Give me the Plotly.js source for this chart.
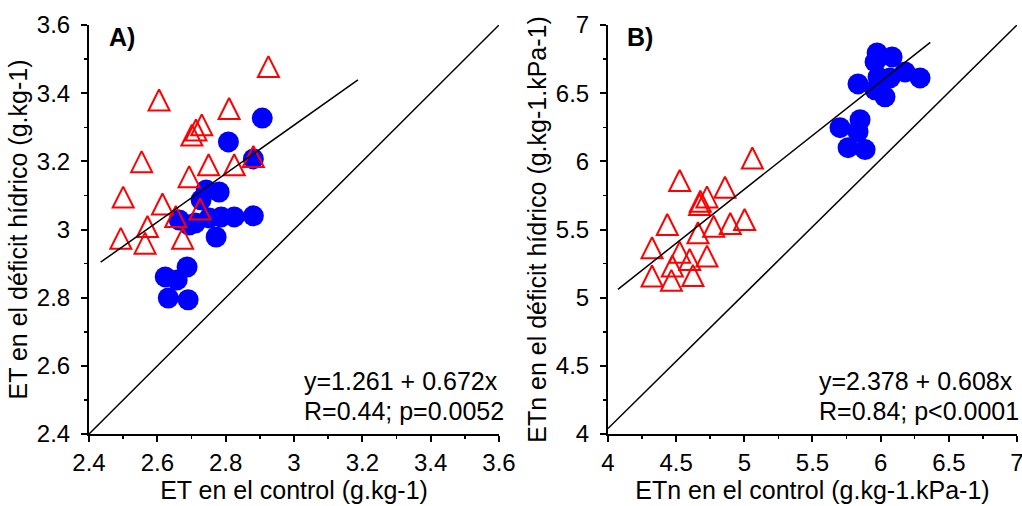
<!DOCTYPE html>
<html>
<head>
<meta charset="utf-8">
<script src="https://cdn.plot.ly/plotly-3.0.1.min.js"></script>
<style>html,body{margin:0;padding:0;background:#fff;}#chart{width:1022px;height:506px;}</style>
</head>
<body>
<div id="chart"></div>
<script>
// ---------- Panel A data (ET) ----------
var aCirclesX = [2.907, 2.808, 2.881, 2.743, 2.781, 2.728, 2.664, 2.711, 2.752, 2.787, 2.825, 2.881, 2.772, 2.693, 2.687, 2.623, 2.658, 2.632, 2.690];
var aCirclesY = [3.327, 3.257, 3.207, 3.116, 3.110, 3.087, 3.028, 3.019, 3.034, 3.037, 3.037, 3.040, 2.978, 3.013, 2.890, 2.861, 2.852, 2.799, 2.794];
var aTrianglesX = [2.925, 2.605, 2.810, 2.730, 2.713, 2.701, 2.554, 2.750, 2.825, 2.881, 2.693, 2.500, 2.615, 2.725, 2.571, 2.493, 2.564, 2.654, 2.674];
var aTrianglesY = [3.478, 3.380, 3.355, 3.307, 3.292, 3.277, 3.199, 3.190, 3.190, 3.214, 3.155, 3.095, 3.075, 3.060, 3.009, 2.974, 2.960, 3.038, 2.974];
var aFitX = [2.434, 3.187];
var aFitY = [2.904, 3.439];
var aOneX = [2.4, 3.6];
var aOneY = [2.4, 3.6];
var aXTitle = "ET en el control (g.kg-1)";
var aYTitle = "ET en el déficit hídrico (g.kg-1)";
var aLabel = "A)";
var aEq1 = "y=1.261 + 0.672x";
var aEq2 = "R=0.44; p=0.0052";

// ---------- Panel B data (ETn) ----------
var bCirclesX = [5.974, 5.959, 6.084, 6.179, 6.289, 5.834, 5.981, 6.069, 6.032, 5.959, 5.702, 5.849, 5.834, 5.761, 5.886];
var bCirclesY = [6.795, 6.729, 6.766, 6.656, 6.612, 6.568, 6.620, 6.612, 6.473, 6.525, 6.247, 6.305, 6.217, 6.100, 6.086];
var bTrianglesX = [5.059, 4.526, 4.858, 4.726, 4.677, 4.672, 4.435, 5.002, 4.897, 4.775, 4.660, 4.323, 4.526, 4.599, 4.726, 4.472, 4.323, 4.465, 4.623];
var bTrianglesY = [6.024, 5.859, 5.810, 5.739, 5.707, 5.683, 5.537, 5.573, 5.544, 5.524, 5.476, 5.366, 5.334, 5.280, 5.305, 5.232, 5.159, 5.127, 5.163];
var bFitX = [4.073, 6.364];
var bFitY = [5.061, 6.873];
var bOneX = [4.0, 7.0];
var bOneY = [4.04, 7.0];
var bXTitle = "ETn en el control (g.kg-1.kPa-1)";
var bYTitle = "ETn en el déficit hídrico (g.kg-1.kPa-1)";
var bLabel = "B)";
var bEq1 = "y=2.378 + 0.608x";
var bEq2 = "R=0.84; p<0.0001";

var FONT = "Liberation Sans, Arial, sans-serif";

function circles(x, y, xa, ya) {
  return {x: x, y: y, xaxis: xa, yaxis: ya, type: 'scatter', mode: 'markers',
    marker: {symbol: 'circle', size: 21, color: '#0000ff', line: {width: 0}}, hoverinfo: 'skip'};
}
function triangles(x, y, xa, ya) {
  return {x: x, y: y, xaxis: xa, yaxis: ya, type: 'scatter', mode: 'markers',
    marker: {symbol: 'arrow-down-open', angle: 180, standoff: 10.5, size: 21, color: '#ff0000', line: {width: 2, color: '#ff0000'}}, hoverinfo: 'skip'};
}
function line(x, y, xa, ya) {
  return {x: x, y: y, xaxis: xa, yaxis: ya, type: 'scatter', mode: 'lines',
    line: {color: '#000', width: 1.5}, hoverinfo: 'skip'};
}

var data = [
  circles(aCirclesX, aCirclesY, 'x', 'y'),
  triangles(aTrianglesX, aTrianglesY, 'x', 'y'),
  line(aFitX, aFitY, 'x', 'y'),
  line(aOneX, aOneY, 'x', 'y'),
  circles(bCirclesX, bCirclesY, 'x2', 'y2'),
  triangles(bTrianglesX, bTrianglesY, 'x2', 'y2'),
  line(bFitX, bFitY, 'x2', 'y2'),
  line(bOneX, bOneY, 'x2', 'y2')
];

function axis(domain, range, dtick, minor, title, standoff, anchor, labelOff) {
  return {
    domain: domain, range: range, dtick: dtick, tick0: range[0], anchor: anchor,
    ticks: 'outside', ticklen: 6, tickwidth: 2, tickcolor: '#000',
    ticklabelstandoff: labelOff, ticklabeloverflow: 'allow',
    showline: true, linewidth: 2, linecolor: '#000',
    showgrid: false, zeroline: false,
    minor: {dtick: minor, ticks: 'outside', ticklen: 3, tickwidth: 1.5, tickcolor: '#000', showgrid: false},
    tickfont: {family: FONT, size: 24, color: '#000'},
    title: {text: title, font: {family: FONT, size: 25, color: '#000'}, standoff: standoff},
    fixedrange: true
  };
}

function note(text, xr, yr, x, y, bold) {
  return {text: bold ? '<b>' + text + '</b>' : text, xref: xr + ' domain', yref: yr + ' domain',
    x: x, y: y, xanchor: 'left', yanchor: 'middle', showarrow: false,
    font: {family: FONT, size: 25, color: '#000'}};
}

var layout = {
  width: 1022, height: 506,
  margin: {l: 0, r: 0, t: 25, b: 72},
  paper_bgcolor: '#fff', plot_bgcolor: '#fff',
  showlegend: false,
  xaxis: axis([0.0871, 0.4883], [2.4, 3.6], 0.2, 0.1, aXTitle, 2, 'y', 0),
  yaxis: axis([0, 1], [2.4, 3.6], 0.2, 0.1, aYTitle, 2, 'x', 6),
  xaxis2: axis([0.5949, 0.9951], [4, 7], 0.5, 0.25, bXTitle, 2, 'y2', 0),
  yaxis2: axis([0, 1], [4, 7], 0.5, 0.25, bYTitle, 2, 'x2', 6),
  annotations: [
    note(aLabel, 'x', 'y', 0.045, 0.97, true),
    note(aEq1, 'x', 'y', 0.52, 0.13, false),
    note(aEq2, 'x', 'y', 0.52, 0.056, false),
    note(bLabel, 'x2', 'y2', 0.042, 0.97, true),
    note(bEq1, 'x2', 'y2', 0.512, 0.13, false),
    note(bEq2, 'x2', 'y2', 0.512, 0.056, false)
  ]
};

Plotly.newPlot('chart', data, layout, {staticPlot: true, displayModeBar: false});
</script>
</body>
</html>
